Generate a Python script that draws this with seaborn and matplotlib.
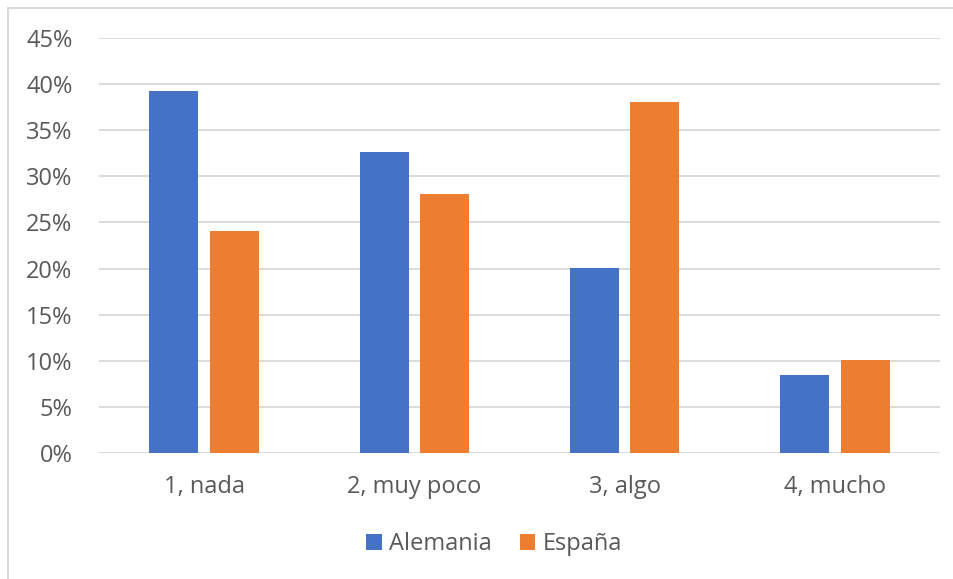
import pandas as pd
import numpy as np
import matplotlib
matplotlib.use('Agg')
import matplotlib.pyplot as plt
import seaborn as sns
from matplotlib.patches import Rectangle
from matplotlib.ticker import PercentFormatter

# Datos
categorias = ['1, nada', '2, muy poco', '3, algo', '4, mucho']
alemania = [0.393, 0.326, 0.201, 0.085]
espana = [0.241, 0.281, 0.381, 0.101]
series = ['Alemania', 'España']
colores = ['#4472C4', '#ED7D31']

df = pd.DataFrame({
    'categoria': categorias * 2,
    'valor': alemania + espana,
    'pais': [series[0]] * len(categorias) + [series[1]] * len(categorias),
})

sns.set_style('white')
plt.rcParams['font.family'] = ['Open Sans', 'DejaVu Sans']

fig = plt.figure(figsize=(9.54, 5.79), dpi=100)
ax = fig.add_axes([99 / 954, 1 - 453 / 579, 841 / 954, (453 - 38) / 579])

sns.barplot(data=df, x='categoria', y='valor', hue='pais', palette=colores,
            width=0.575, gap=0.19, ax=ax, saturation=1, legend=True,
            linewidth=0)

ax.set_ylim(0, 0.45)
ax.set_xlim(-0.5, 3.5)
ax.set_yticks(np.arange(0, 0.451, 0.05))
ax.yaxis.set_major_formatter(PercentFormatter(1.0, decimals=0))
ax.grid(axis='y', color='#d9d9d9', linewidth=1.3)
ax.set_axisbelow(True)
for s in ax.spines.values():
    s.set_visible(False)
ax.tick_params(axis='both', length=0, labelsize=17, labelcolor='#595959')
ax.tick_params(axis='y', pad=19)
ax.tick_params(axis='x', pad=16)
ax.set_xlabel('')
ax.set_ylabel('')

ax.legend(loc='center', bbox_to_anchor=(494 / 954, 1 - 544 / 579),
          bbox_transform=fig.transFigure, ncol=2, frameon=False,
          fontsize=17, labelcolor='#595959', handlelength=0.65, handleheight=0.65,
          handletextpad=0.3, columnspacing=1.2)

# borde del gráfico
fig.patches.append(Rectangle((8 / 954, -0.05), 1.0, 1 - 8 / 579 + 0.05,
                             transform=fig.transFigure, fill=False,
                             edgecolor='#d9d9d9', linewidth=1.5))

fig.savefig('out.png', dpi=100)
